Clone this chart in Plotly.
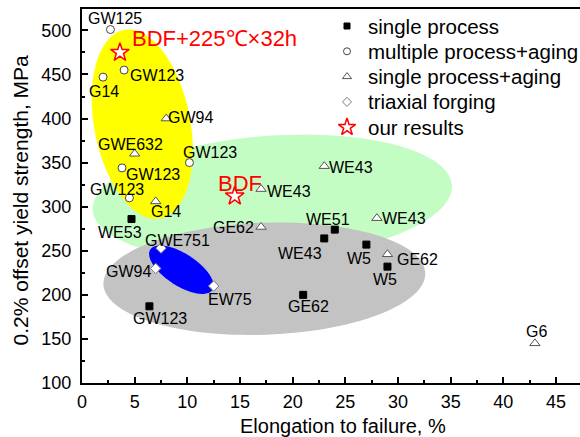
import math
import plotly.graph_objects as go

# Elongation to failure (%) and 0.2% offset yield strength (MPa) by processing route
sp_x = [4.7, 24.0, 23.0, 27.0, 29.0, 21.0, 6.4]
sp_y = [286, 274, 264, 257, 232, 200, 187]
sp_names = ["WE53", "WE51", "WE43", "W5", "W5", "GE62", "GW123"]

mpa_x = [2.7, 4.0, 2.0, 10.2, 3.8, 4.5]
mpa_y = [501, 455, 447, 350, 344, 310]
mpa_names = ["GW125", "GW123", "G14", "GW123", "GW123", "GW123"]

spa_x = [8.0, 5.0, 7.0, 17.0, 17.0, 23.0, 28.0, 29.0, 43.0]
spa_y = [400, 360, 306, 320, 277, 346, 287, 246, 145]
spa_names = ["GW94", "GWE632", "G14", "WE43", "GE62", "WE43", "WE43", "GE62", "G6"]

tf_x = [7.5, 7.0, 12.5]
tf_y = [253, 230, 210]
tf_names = ["GWE751", "GW94", "EW75"]

our_x = [3.6, 14.5]
our_y = [475, 312]
our_names = ["BDF+225℃×32h", "BDF"]

group_names = ["single process", "multiple process+aging", "single process+aging",
               "triaxial forging", "our results"]

# label offsets in screen pixels (dx right, dy down)
sp_off = [(-12, 13), (-7, -10), (-24, 15), (-7, 14), (-2, 13), (5, 12), (11, 12)]
mpa_off = [(5, -11), (33, 5), (1, 14), (21, -10), (31, 7), (-12, -8)]
spa_off = [(24, -1), (-4, -9), (10, 10), (28, 2), (-28, 1), (27, 1), (27, 0), (30, 5), (2, -12)]
tf_off = [(16, -8), (-27, 3), (16, 13)]
our_off = [(10, -14), (5, -13)]

W, H = 580, 437
ML, MR, MT, MB = 82, 0, 9, 54
X_MIN, Y_MIN = 0.0, 100.0
SX = 10.533   # px per % elongation
SY = 0.8815   # px per MPa
X_MAX = X_MIN + (W - ML - MR) / SX
Y_MAX = Y_MIN + (H - MT - MB) / SY

# key placement (page px)
KEY_SYM_X, KEY_TEXT_X, KEY_Y0, KEY_DY = 347, 366, 26, 25.3

FONT = "Liberation Sans, Arial, sans-serif"


def ellipse_path(cx, cy, a, b, angle_deg, n=120):
    """Closed ellipse path in data units; a, b are semi-axes in screen px."""
    th = math.radians(angle_deg)
    pts = []
    for i in range(n + 1):
        t = 2 * math.pi * i / n
        u, v = a * math.cos(t), b * math.sin(t)
        dx = u * math.cos(th) - v * math.sin(th)
        dy = u * math.sin(th) + v * math.cos(th)
        pts.append((cx + dx / SX, cy - dy / SY))
    return "M " + " L ".join(f"{x:.4f},{y:.4f}" for x, y in pts) + " Z"


# shaded regions: centre (data), semi-axes (px), tilt (deg), colour
regions = [
    (18.07, 310.2, 180, 62, -4, "#C4FDC4"),
    (5.72, 393.6, 48, 96, -11, "#FFFF00"),
    (17.31, 218.3, 161, 56, -2, "#C3C3C3"),
    (9.43, 228.5, 37, 16, 33, "#0000FF"),
]

shapes = [
    dict(type="path", path=ellipse_path(cx, cy, a, b, ang), xref="x", yref="y",
         fillcolor=col, line=dict(width=0), layer="below")
    for cx, cy, a, b, ang, col in regions
]

styles = [
    dict(symbol="square", size=7, color="black", line=dict(color="black", width=1)),
    dict(symbol="circle", size=8, color="white", line=dict(color="#444444", width=1)),
    dict(symbol="triangle-up", size=9, color="white", line=dict(color="#555555", width=1)),
    dict(symbol="diamond", size=8, color="white", line=dict(color="#777777", width=1)),
    dict(symbol="star", size=14, color="white", line=dict(color="red", width=1.5)),
]
key_sizes = [6, 7, 8, 7, 13]

fig = go.Figure()

series = [(sp_x, sp_y), (mpa_x, mpa_y), (spa_x, spa_y), (tf_x, tf_y), (our_x, our_y)]
for name, (xs, ys), mk in zip(group_names, series, styles):
    fig.add_trace(go.Scatter(x=xs, y=ys, mode="markers", name=name, marker=mk,
                             cliponaxis=False, showlegend=False))

# key glyphs on a pixel-based overlay axis
for i, (name, mk, ks) in enumerate(zip(group_names, styles, key_sizes)):
    kmk = dict(mk)
    kmk["size"] = ks
    fig.add_trace(go.Scatter(x=[KEY_SYM_X], y=[KEY_Y0 + i * KEY_DY], mode="markers",
                             marker=kmk, xaxis="x2", yaxis="y2", showlegend=False,
                             hoverinfo="skip", cliponaxis=False))

annotations = []
for xs, ys, names, offs in [(sp_x, sp_y, sp_names, sp_off),
                            (mpa_x, mpa_y, mpa_names, mpa_off),
                            (spa_x, spa_y, spa_names, spa_off),
                            (tf_x, tf_y, tf_names, tf_off)]:
    for x, y, t, (dx, dy) in zip(xs, ys, names, offs):
        annotations.append(dict(x=x, y=y, text=t, showarrow=False, xshift=dx, yshift=-dy,
                                xanchor="center", yanchor="middle",
                                font=dict(family=FONT, size=16, color="black")))

for i, (x, y, t, (dx, dy)) in enumerate(zip(our_x, our_y, our_names, our_off)):
    annotations.append(dict(x=x, y=y, text=t, showarrow=False, xshift=dx, yshift=-dy,
                            xanchor="left" if i == 0 else "center", yanchor="middle",
                            font=dict(family=FONT, size=22, color="red")))

# key texts
for i, name in enumerate(group_names):
    annotations.append(dict(x=KEY_TEXT_X, y=KEY_Y0 + i * KEY_DY, xref="x2", yref="y2",
                            text=name, showarrow=False, xanchor="left", yanchor="middle",
                            font=dict(family=FONT, size=20.5, color="black")))

# axis titles
annotations.append(dict(text="Elongation to failure, %", xref="paper", yref="paper",
                        x=(342.6 - ML) / (W - ML - MR), y=0, yshift=-43,
                        showarrow=False, xanchor="center", yanchor="middle",
                        font=dict(family=FONT, size=20, color="black")))
annotations.append(dict(text="0.2% offset yield strength, MPa", xref="paper", yref="paper",
                        x=0, xshift=-(ML - 20), y=(H - MB - 200.5) / (H - MT - MB),
                        textangle=-90, showarrow=False, xanchor="center", yanchor="middle",
                        font=dict(family=FONT, size=21, color="black")))

fig.update_layout(
    width=W, height=H, autosize=False,
    margin=dict(l=ML, r=MR, t=MT, b=MB, pad=0),
    paper_bgcolor="white", plot_bgcolor="white",
    font=dict(family=FONT, color="black"),
    shapes=shapes, annotations=annotations,
    showlegend=False,
    xaxis=dict(range=[X_MIN, X_MAX], showgrid=False, zeroline=False,
               showline=True, linecolor="black", linewidth=2, mirror=True,
               ticks="inside", ticklen=6, tickwidth=1.5, tickcolor="black",
               dtick=5, tick0=0, ticklabelstandoff=1,
               tickfont=dict(family=FONT, size=18, color="black"),
               minor=dict(ticks="inside", ticklen=3, tickwidth=1.5, tickcolor="black", dtick=2.5)),
    yaxis=dict(range=[Y_MIN, Y_MAX], showgrid=False, zeroline=False,
               showline=True, linecolor="black", linewidth=2, mirror=False,
               ticks="inside", ticklen=6, tickwidth=1.5, tickcolor="black",
               dtick=50, tick0=0, ticklabelstandoff=5,
               tickfont=dict(family=FONT, size=18, color="black"),
               minor=dict(ticks="inside", ticklen=3, tickwidth=1.5, tickcolor="black", dtick=25)),
    xaxis2=dict(overlaying="x", range=[ML, W - MR], visible=False, fixedrange=True),
    yaxis2=dict(overlaying="y", range=[H - MB, MT], visible=False, fixedrange=True),
)

fig.write_html("out.html")
